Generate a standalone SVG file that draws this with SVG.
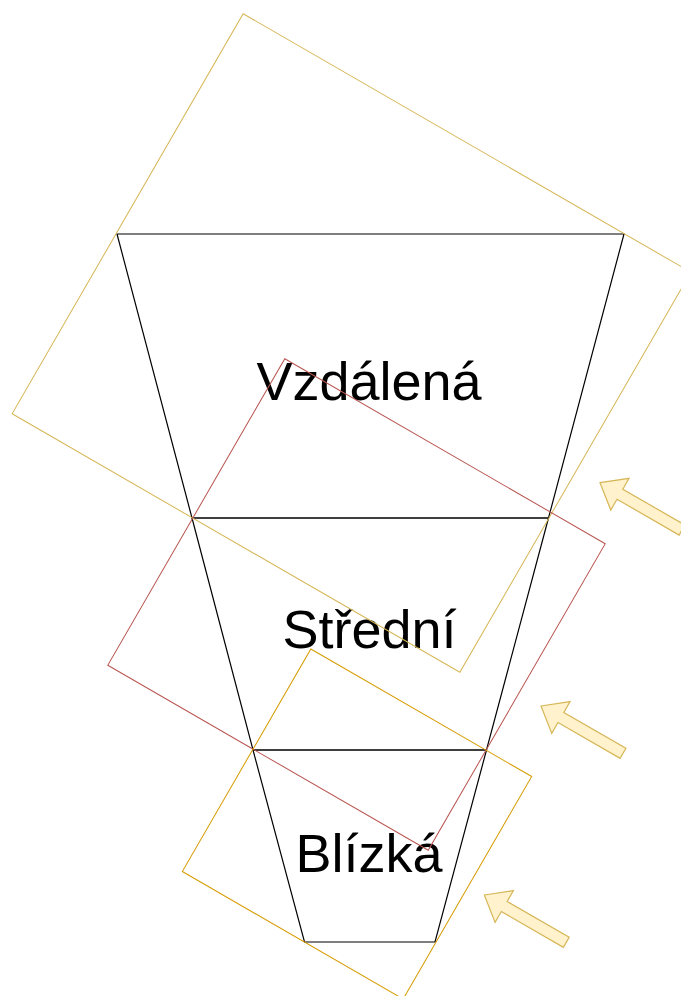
<svg xmlns="http://www.w3.org/2000/svg" width="681" height="996" viewBox="0 0 681 996">
<defs>
<style>
.zone{fill:none;stroke:#000;stroke-width:1.2;stroke-linejoin:miter}
.fov{fill:none;stroke-width:1}
.y{stroke:#d6b656}
.r{stroke:#b85450}
.o{stroke:#d79b00}
.arr{fill:#fff2cc;stroke:#d6b656;stroke-width:1.2}
.lbl{font-family:"Liberation Sans",Arial,sans-serif;font-size:54px;fill:#000;text-anchor:middle}
</style>
<path id="arrowShape" d="M0,0 L23,-18.3 L23,-5.8 L94.7,-5.8 L94.7,5.8 L23,5.8 L23,18.3 Z"/>
</defs>
<rect width="681" height="996" fill="#fff"/>
<g id="zone-far">
<polygon class="zone" points="117,234 624,234 548.5,518 192,518"/>
<text class="lbl" x="369" y="400">Vzdálená</text>
</g>
<g id="zone-mid">
<polygon class="zone" points="192,518 548.5,518 486.5,750 253,750"/>
<text class="lbl" x="369.5" y="648">Střední</text>
</g>
<g id="zone-near">
<polygon class="zone" points="253,750 486.5,750 435,942 304.5,942"/>
<text class="lbl" x="369" y="872">Blízká</text>
</g>
<g id="fov-large">
<rect class="fov y" x="-258.5" y="-231" width="517" height="462" transform="translate(351.5,343) rotate(30)"/>
</g>
<g id="fov-medium">
<rect class="fov r" x="-185" y="-177" width="370" height="354" transform="translate(356.5,604.5) rotate(30)"/>
</g>
<g id="fov-small">
<rect class="fov o" x="-127.5" y="-128.5" width="255" height="257" transform="translate(357,824) rotate(30)"/>
</g>
<g id="arrow-1">
<use href="#arrowShape" class="arr" transform="translate(600,482.7) rotate(30)"/>
</g>
<g id="arrow-2">
<use href="#arrowShape" class="arr" transform="translate(541,706) rotate(30)"/>
</g>
<g id="arrow-3">
<use href="#arrowShape" class="arr" transform="translate(484.3,895) rotate(30)"/>
</g>
</svg>
